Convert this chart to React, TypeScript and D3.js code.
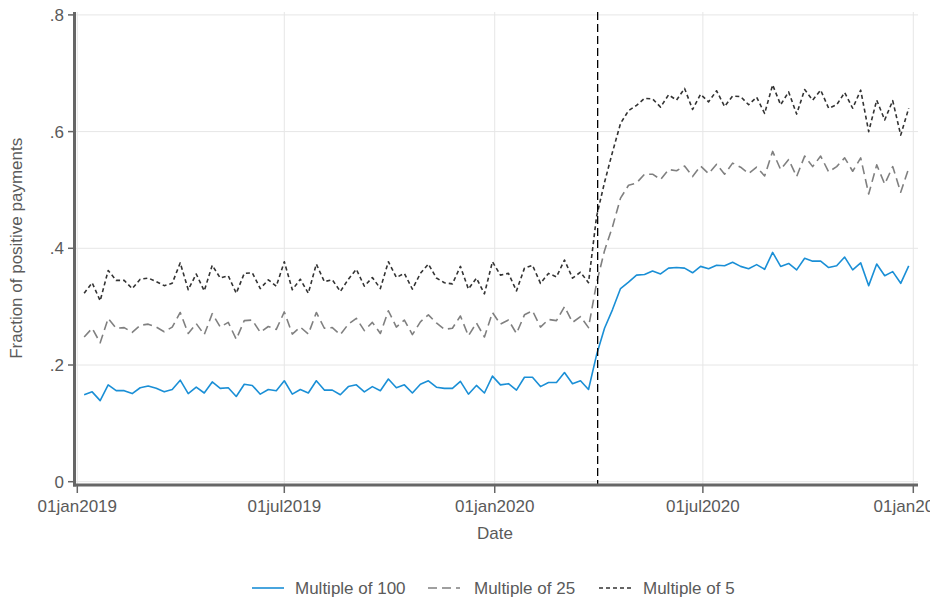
import React from 'react'
import * as d3 from 'd3'

// weekly shares of positive payments
const multipleOf100 = [
  0.149, 0.154, 0.139, 0.166, 0.156, 0.156, 0.151, 0.161, 0.164, 0.16, 0.154, 0.158, 0.174, 0.151, 0.162,
  0.152, 0.171, 0.16, 0.161, 0.146, 0.167, 0.165, 0.15, 0.158, 0.156, 0.173, 0.15, 0.158, 0.152, 0.173,
  0.157, 0.157, 0.149, 0.163, 0.166, 0.154, 0.163, 0.156, 0.176, 0.161, 0.166, 0.152, 0.167, 0.173, 0.162,
  0.16, 0.16, 0.172, 0.15, 0.165, 0.152, 0.181, 0.166, 0.168, 0.157, 0.179, 0.179, 0.163, 0.17, 0.17,
  0.187, 0.168, 0.173, 0.158, 0.217, 0.263, 0.295, 0.331, 0.342, 0.354, 0.355, 0.361, 0.356, 0.366, 0.367,
  0.366, 0.358, 0.369, 0.365, 0.371, 0.37, 0.376, 0.369, 0.365, 0.372, 0.364, 0.393, 0.369, 0.374, 0.363,
  0.383, 0.378, 0.378, 0.367, 0.37, 0.385, 0.363, 0.375, 0.336, 0.373, 0.353, 0.36, 0.34, 0.37,
]
const multipleOf25 = [
  0.248, 0.263, 0.238, 0.28, 0.263, 0.264, 0.256, 0.268, 0.27, 0.265, 0.257, 0.265, 0.29, 0.254, 0.271,
  0.252, 0.288, 0.265, 0.273, 0.244, 0.276, 0.277, 0.256, 0.266, 0.261, 0.291, 0.253, 0.265, 0.253, 0.29,
  0.263, 0.264, 0.252, 0.27, 0.28, 0.259, 0.273, 0.254, 0.293, 0.265, 0.277, 0.252, 0.274, 0.286, 0.272,
  0.261, 0.263, 0.284, 0.25, 0.272, 0.248, 0.29, 0.27, 0.277, 0.254, 0.286, 0.293, 0.265, 0.278, 0.276,
  0.3, 0.273, 0.283, 0.264, 0.34, 0.396, 0.437, 0.486, 0.508, 0.512, 0.527, 0.527, 0.518, 0.535, 0.533,
  0.541, 0.523, 0.541, 0.528, 0.544, 0.527, 0.546, 0.539, 0.528, 0.539, 0.524, 0.566, 0.535, 0.552, 0.523,
  0.558, 0.54, 0.558, 0.531, 0.54, 0.555, 0.532, 0.555, 0.493, 0.543, 0.51, 0.54, 0.496, 0.537,
]
const multipleOf5 = [
  0.323, 0.341, 0.31, 0.362, 0.345, 0.345, 0.331, 0.347, 0.349, 0.343, 0.336, 0.34, 0.375, 0.329, 0.356,
  0.327, 0.371, 0.349, 0.353, 0.323, 0.357, 0.358, 0.331, 0.346, 0.335, 0.377, 0.329, 0.347, 0.323, 0.373,
  0.343, 0.346, 0.326, 0.347, 0.364, 0.335, 0.35, 0.331, 0.377, 0.35, 0.357, 0.33, 0.357, 0.373, 0.349,
  0.341, 0.339, 0.369, 0.33, 0.349, 0.322, 0.377, 0.354, 0.357, 0.327, 0.366, 0.371, 0.34, 0.357, 0.351,
  0.38, 0.349, 0.359, 0.341, 0.454, 0.513, 0.565, 0.614, 0.636, 0.645, 0.657, 0.656, 0.642, 0.663, 0.654,
  0.674, 0.638, 0.664, 0.651, 0.67, 0.643, 0.661, 0.66, 0.646, 0.659, 0.631, 0.68, 0.646, 0.668, 0.63,
  0.672, 0.654, 0.671, 0.64, 0.646, 0.667, 0.64, 0.671, 0.6, 0.654, 0.62, 0.653, 0.594, 0.64,
]
const weeks = d3.timeMonday.range(new Date(2019, 0, 7), new Date(2020, 11, 29))

const xTicks = [
  new Date(2019, 0, 1),
  new Date(2019, 6, 1),
  new Date(2020, 0, 1),
  new Date(2020, 6, 1),
  new Date(2021, 0, 1),
]
const yTicks = [0, 0.2, 0.4, 0.6, 0.8]
const yTickLabels = ['0', '.2', '.4', '.6', '.8']
const covidDate = new Date(2020, 2, 31)

const series = [
  { name: 'Multiple of 100', values: multipleOf100, color: '#1a8fd6', dash: null, width: 1.6 },
  { name: 'Multiple of 25', values: multipleOf25, color: '#808080', dash: '9 5', width: 1.6 },
  { name: 'Multiple of 5', values: multipleOf5, color: '#333333', dash: '4 3', width: 1.6 },
]

const width = 930
const height = 597
const font = '"Liberation Sans", Arial, sans-serif'
const fontSize = 17
const textColor = '#5a5a5a'
const axisColor = '#666666'

function App() {
  const x = d3.scaleTime().domain([xTicks[0], xTicks[4]]).range([77.3, 913.3])
  const y = d3.scaleLinear().domain([0, 0.8]).range([481.7, 14.9])
  const fmt = d3.timeFormat('%d%b%Y')

  const legendItems = [
    { x0: 252, tx: 295 },
    { x0: 428, tx: 474 },
    { x0: 599, tx: 643 },
  ]

  return (
    <svg
      width={width}
      height={height}
      style={{ position: 'absolute', left: 0, top: 0, background: '#fff' }}
      fontFamily={font}
    >
      {/* grid */}
      {yTicks.map(t => (
        <line key={'gy' + t} x1={76} x2={918} y1={y(t)} y2={y(t)} stroke="#e6e6e6" strokeWidth={1} />
      ))}
      {xTicks.map(t => (
        <line key={'gx' + t.getTime()} x1={x(t)} x2={x(t)} y1={12} y2={484} stroke="#e6e6e6" strokeWidth={1} />
      ))}

      {/* series */}
      {series.map(s => {
        const line = d3
          .line<number>()
          .x((_, i) => x(weeks[i]))
          .y(d => y(d))
        return (
          <path
            key={s.name}
            d={line(s.values) || ''}
            fill="none"
            stroke={s.color}
            strokeWidth={s.width}
            strokeDasharray={s.dash || undefined}
            strokeLinejoin="round"
          />
        )
      })}

      {/* policy date */}
      <line
        x1={x(covidDate)}
        x2={x(covidDate)}
        y1={12}
        y2={486}
        stroke="#000"
        strokeWidth={1.3}
        strokeDasharray="8 4"
      />

      {/* y axis */}
      <line x1={74.5} x2={74.5} y1={12} y2={486.5} stroke={axisColor} strokeWidth={3} />
      {yTicks.map((t, i) => (
        <g key={'yt' + t}>
          <line x1={68} x2={74} y1={y(t)} y2={y(t)} stroke={axisColor} strokeWidth={1.5} />
          <text x={64} y={y(t)} dy="0.35em" textAnchor="end" fontSize={fontSize} fill={textColor}>
            {yTickLabels[i]}
          </text>
        </g>
      ))}
      <text
        transform={`translate(22, ${y(0.4)}) rotate(-90)`}
        textAnchor="middle"
        fontSize={fontSize}
        fill={textColor}
      >
        Fraction of positive payments
      </text>

      {/* x axis */}
      <line x1={73} x2={918} y1={485} y2={485} stroke={axisColor} strokeWidth={3} />
      {xTicks.map(t => (
        <g key={'xt' + t.getTime()}>
          <line x1={x(t)} x2={x(t)} y1={486} y2={493} stroke={axisColor} strokeWidth={1.5} />
          <text x={x(t)} y={512} textAnchor="middle" fontSize={fontSize} fill={textColor}>
            {fmt(t).toLowerCase()}
          </text>
        </g>
      ))}
      <text x={495} y={539} textAnchor="middle" fontSize={fontSize} fill={textColor}>
        Date
      </text>

      {/* legend */}
      {series.map((s, i) => (
        <g key={'lg' + s.name}>
          <line
            x1={legendItems[i].x0}
            x2={legendItems[i].x0 + 32}
            y1={588}
            y2={588}
            stroke={s.color}
            strokeWidth={s.width}
            strokeDasharray={s.dash || undefined}
          />
          <text x={legendItems[i].tx} y={588} dy="0.35em" fontSize={fontSize} fill={textColor}>
            {s.name}
          </text>
        </g>
      ))}
    </svg>
  )
}

export default App
